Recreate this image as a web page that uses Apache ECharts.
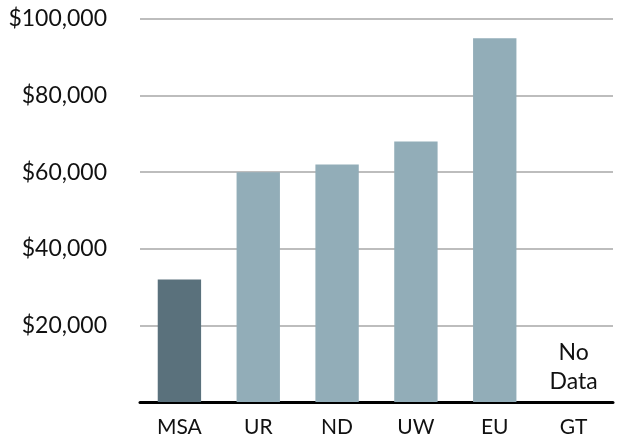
<!DOCTYPE html>
<html>
<head>
<meta charset="utf-8">
<script src="https://cdn.jsdelivr.net/npm/echarts@6/dist/echarts.min.js"></script>
<style>
  html, body { margin: 0; padding: 0; background: #fff; }
  #chart { width: 618px; height: 442px; }
</style>
</head>
<body>
<div id="chart"></div>
<script>
// schools and salary
var schools = ['MSA', 'UR', 'ND', 'UW', 'EU', 'GT']
var salaries = [32000, 60000, 62000, 68000, 95000, 0]
var noData = ['GT']

var darkColor = '#5a717c'
var lightColor = '#92adb8'

var myChart = echarts.init(document.getElementById('chart'))

var barData = salaries.map(function (v, i) {
  var item = { value: v, itemStyle: { color: i === 0 ? darkColor : lightColor } }
  if (noData.indexOf(schools[i]) >= 0) {
    item.label = {
      show: true,
      position: 'top',
      distance: 6,
      formatter: 'No\nData',
      fontSize: 23,
      lineHeight: 29,
      color: '#111',
      fontFamily: 'Lato'
    }
  }
  return item
})

var option = {
  animation: false,
  grid: { left: 140, right: 5, top: 19, bottom: 40 },
  xAxis: {
    type: 'category',
    data: schools,
    axisLine: { lineStyle: { color: '#000', width: 3 } },
    axisTick: { show: false },
    axisLabel: { color: '#111', fontSize: 21, fontFamily: 'Lato', margin: 15 }
  },
  yAxis: {
    type: 'value',
    min: 0,
    max: 100000,
    interval: 20000,
    axisLine: { show: false },
    axisTick: { show: false },
    splitLine: { lineStyle: { color: '#bdbdbd', width: 2 } },
    axisLabel: {
      color: '#111',
      fontSize: 23,
      fontFamily: 'Lato',
      margin: 33,
      formatter: function (v) {
        if (v === 0) return ''
        return '$' + v.toLocaleString('en-US')
      }
    }
  },
  series: [
    {
      type: 'bar',
      barWidth: '55%',
      data: barData
    }
  ]
}
myChart.setOption(option)
</script>
</body>
</html>
